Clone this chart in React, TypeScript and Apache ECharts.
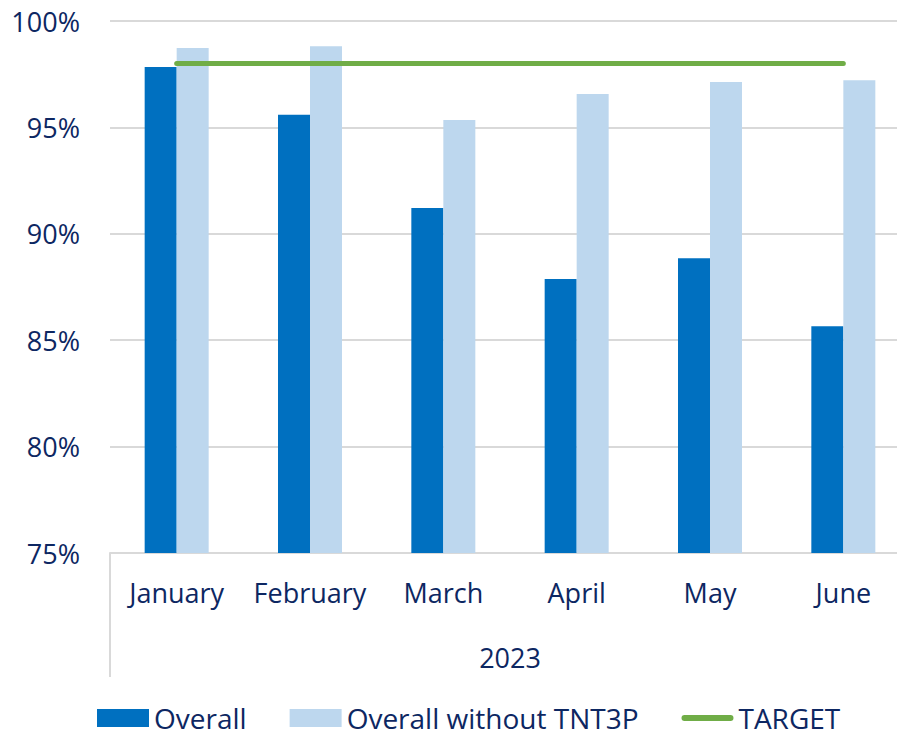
import React, { useEffect, useRef } from "react";
import * as echarts from "echarts";

const categories = ["January", "February", "March", "April", "May", "June"];
const overall = [97.84, 95.6, 91.21, 87.88, 88.85, 85.66];
const overallWithout = [98.73, 98.81, 95.35, 96.57, 97.13, 97.22];
const target = [98, 98, 98, 98, 98, 98];
const yearLabel = "2023";
const seriesNames = ["Overall", "Overall without TNT3P", "TARGET"];

const TEXT = "#0d2762";
const GRID = "#d9d9d9";
const FONT = "Open Sans";
const LINE_ICON =
  "path://M0,0 M52,18 M3,6 L49,6 A3,3 0 0 1 49,12 L3,12 A3,3 0 0 1 3,6 Z";

export default function App() {
  const ref = useRef<HTMLDivElement>(null);
  useEffect(() => {
    if (!ref.current) return;
    const chart = echarts.init(ref.current, null, { renderer: "svg" });
    chart.setOption({
      animation: false,
      backgroundColor: "#ffffff",
      textStyle: { fontFamily: FONT, color: TEXT },
      grid: {
        left: 110,
        top: 21,
        width: 800,
        height: 532,
        containLabel: false,
        outerBoundsMode: "none",
      },
      legend: {
        left: 97,
        top: 704,
        padding: 0,
        itemWidth: 52,
        itemHeight: 18,
        itemGap: 43,
        textStyle: { fontFamily: FONT, fontSize: 28, lineHeight: 28, color: TEXT },
        data: [
          { name: seriesNames[0], icon: "rect" },
          { name: seriesNames[1], icon: "rect" },
          { name: seriesNames[2], icon: LINE_ICON },
        ],
      },
      xAxis: {
        type: "category",
        data: categories,
        axisLine: { lineStyle: { color: GRID, width: 2 } },
        axisTick: { show: false },
        axisLabel: { fontFamily: FONT, fontSize: 27, color: TEXT, margin: 26, interval: 0 },
      },
      yAxis: {
        type: "value",
        min: 75,
        max: 100,
        interval: 5,
        axisLine: { show: false },
        axisTick: { show: false },
        splitLine: { lineStyle: { color: GRID, width: 2 } },
        axisLabel: {
          fontFamily: FONT,
          fontSize: 27,
          color: TEXT,
          margin: 30,
          formatter: (v: number) => `${v}%`,
        },
      },
      series: [
        {
          name: seriesNames[0],
          type: "bar",
          data: overall,
          barWidth: 32,
          barGap: "0%",
          itemStyle: { color: "#0070c0" },
        },
        {
          name: seriesNames[1],
          type: "bar",
          data: overallWithout,
          barWidth: 32,
          barGap: "0%",
          itemStyle: { color: "#bdd7ee" },
        },
        {
          name: seriesNames[2],
          type: "line",
          data: target,
          symbol: "none",
          lineStyle: { color: "#70ad47", width: 5, cap: "round" },
          itemStyle: { color: "#70ad47" },
          z: 5,
        },
      ],
      graphic: [
        {
          type: "line",
          shape: { x1: 110, y1: 553, x2: 110, y2: 677 },
          style: { stroke: GRID, lineWidth: 2 },
        },
        {
          type: "text",
          x: 510,
          y: 657,
          style: {
            text: yearLabel,
            font: `27px "${FONT}"`,
            fill: TEXT,
            textAlign: "center",
            textVerticalAlign: "middle",
          },
        },
      ],
    });
    return () => chart.dispose();
  }, []);
  return (
    <div
      ref={ref}
      style={{ position: "absolute", left: 0, top: 0, width: 897, height: 730 }}
    />
  );
}
